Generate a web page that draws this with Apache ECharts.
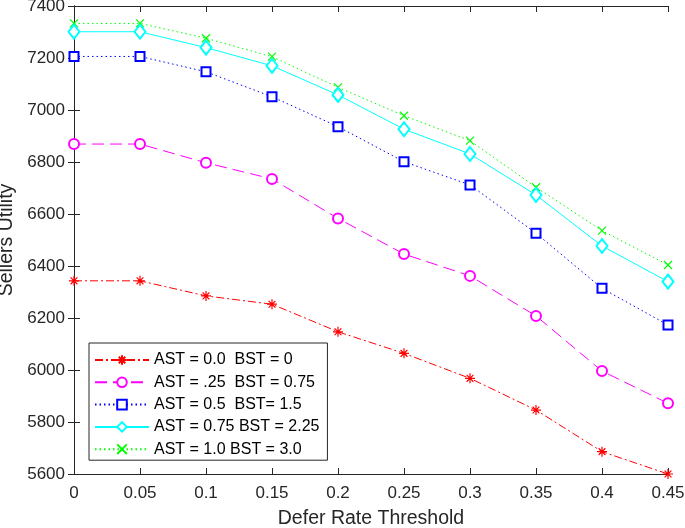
<!DOCTYPE html>
<html><head><meta charset="utf-8">
<script src="https://cdn.jsdelivr.net/npm/echarts@6/dist/echarts.min.js"></script>
<style>html,body{margin:0;padding:0;background:#fff}#c{width:685px;height:528px}</style>
</head><body><div id="c"></div>
<script>
const xValues = [0, 0.05, 0.1, 0.15, 0.2, 0.25, 0.3, 0.35, 0.4, 0.45];
const seriesNames = ['AST = 0.0  BST = 0', 'AST = .25  BST = 0.75', 'AST = 0.5  BST= 1.5', 'AST = 0.75 BST = 2.25', 'AST = 1.0 BST = 3.0'];
const ast0 = [6343, 6343, 6285, 6253, 6147, 6064, 5968, 5846, 5686, 5600];
const ast25 = [6869, 6869, 6797, 6735, 6583, 6446, 6362, 6208, 5996, 5872];
const ast5 = [7206, 7206, 7147, 7051, 6936, 6801, 6712, 6526, 6314, 6173];
const ast75 = [7301, 7301, 7240, 7170, 7058, 6926, 6831, 6673, 6477, 6340];
const ast10 = [7333, 7333, 7276, 7205, 7087, 6978, 6882, 6703, 6536, 6404];
const yTicks = {min: 5600, max: 7400, interval: 200};
const xTicks = {min: 0, max: 0.45, interval: 0.05};

const FONT = '"Liberation Sans", Arial, Helvetica, sans-serif';
const AX = '#262626';
const asterisk = 'path://M5,0L5,10M0,5L10,5M1.6,1.6L8.4,8.4M8.4,1.6L1.6,8.4';
const cross = 'path://M0,0L10,10M10,0L0,10';

const styles = [
  {data: ast0, color: '#ff0000', symbol: asterisk, size: 10, type: [8, 3, 2, 3]},
  {data: ast25, color: '#ff00ff', symbol: 'emptyCircle', size: 10, type: [12, 6]},
  {data: ast5, color: '#0000ff', symbol: 'emptyRect', size: 9, type: [1.5, 3]},
  {data: ast75, color: '#00ffff', symbol: 'emptyDiamond', size: [11, 14], type: 'solid'},
  {data: ast10, color: '#00ff00', symbol: cross, size: 8, type: [1.5, 3]}
];

const chart = echarts.init(document.getElementById('c'), null, {renderer: 'canvas'});
const fmtX = v => String(parseFloat(v.toFixed(2)));
const baseAxisLine = {show: true, lineStyle: {color: AX, width: 1}};
const tick = {show: true, inside: true, length: 6, lineStyle: {color: AX}};
chart.setOption({
  animation: false,
  backgroundColor: '#fff',
  textStyle: {fontFamily: FONT},
  grid: {left: 74, right: 17, top: 6, bottom: 54, containLabel: false, outerBoundsMode: 'none'},
  legend: {
    orient: 'vertical', left: 89, top: 343,
    padding: [9, 8, 3, 5], itemGap: 6.3, itemWidth: 54, itemHeight: 12,
    backgroundColor: '#fff', borderColor: AX, borderWidth: 1,
    textStyle: {fontFamily: FONT, fontSize: 16, color: '#000'},
    data: seriesNames
  },
  xAxis: [
    {type: 'value', min: xTicks.min, max: xTicks.max, interval: xTicks.interval,
     name: 'Defer Rate Threshold', nameLocation: 'middle', nameGap: 35,
     nameTextStyle: {fontFamily: FONT, fontSize: 19.5, color: AX},
     axisLine: baseAxisLine, axisTick: tick,
     axisLabel: {fontFamily: FONT, fontSize: 17, color: AX, margin: 11, formatter: fmtX},
     splitLine: {show: false}},
    {type: 'value', position: 'top', min: xTicks.min, max: xTicks.max, interval: xTicks.interval,
     axisLine: baseAxisLine, axisTick: tick,
     axisLabel: {show: false}, splitLine: {show: false}}
  ],
  yAxis: [
    {type: 'value', min: yTicks.min, max: yTicks.max, interval: yTicks.interval,
     name: 'Sellers Utility', nameLocation: 'middle', nameGap: 55, nameRotate: 90,
     nameTextStyle: {fontFamily: FONT, fontSize: 19.5, color: AX},
     axisLine: baseAxisLine, axisTick: tick,
     axisLabel: {fontFamily: FONT, fontSize: 17, color: AX, margin: 9, formatter: v => String(v)},
     splitLine: {show: false}},
    {type: 'value', position: 'right', min: yTicks.min, max: yTicks.max, interval: yTicks.interval,
     axisLine: baseAxisLine, axisTick: tick,
     axisLabel: {show: false}, splitLine: {show: false}}
  ],
  series: styles.map((s, i) => ({
    name: seriesNames[i], type: 'line', xAxisIndex: 0, yAxisIndex: 0,
    data: xValues.map((x, j) => [x, s.data[j]]),
    symbol: s.symbol, symbolSize: s.size, showAllSymbol: true,
    lineStyle: {color: s.color, width: 1, type: s.type},
    itemStyle: {color: s.color, borderColor: s.color, borderWidth: 1.2},
    z: 10 - i
  }))
});
</script></body></html>
